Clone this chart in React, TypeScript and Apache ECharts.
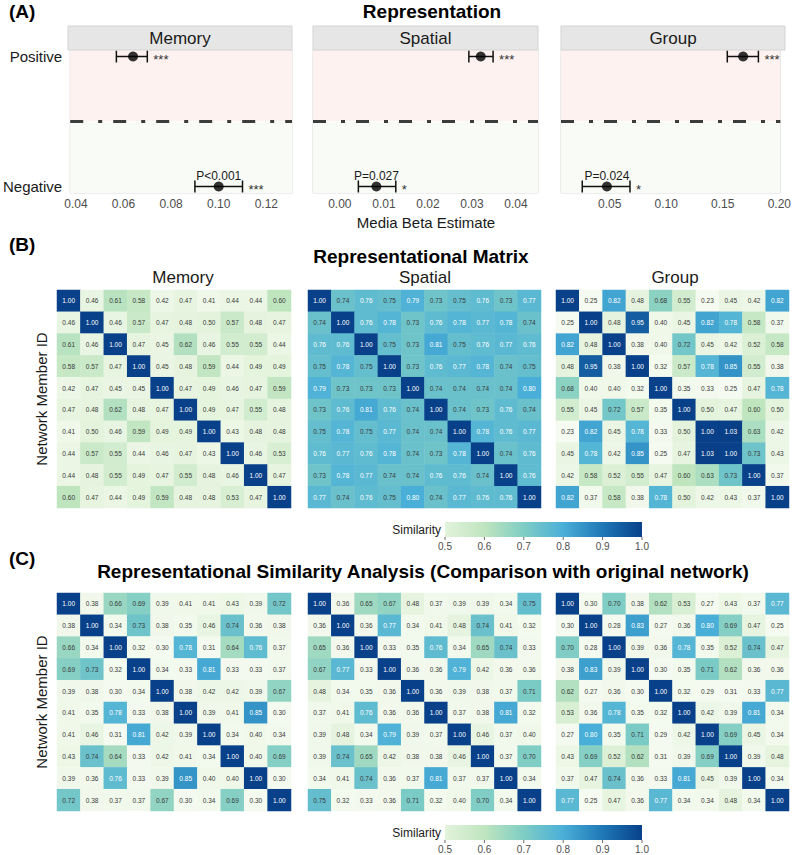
import React, { useEffect, useRef } from "react";
import * as echarts from "echarts";

// ---------- data ----------
const FACETS = ["Memory", "Spatial", "Group"];
const EFFECT_LEVELS = ["Negative", "Positive"]; // y = 1, y = 2

// media beta estimates with confidence interval, one entry per facet
const POS_EST = [0.064, 0.032, 0.168];
const POS_LO = [0.057, 0.0293, 0.154];
const POS_HI = [0.07, 0.0348, 0.1815];
const POS_STARS = ["***", "***", "***"];

const NEG_EST = [0.1, 0.0083, 0.0476];
const NEG_LO = [0.09, 0.0042, 0.0258];
const NEG_HI = [0.11, 0.0127, 0.068];
const NEG_STARS = ["***", "*", "*"];
const NEG_P = ["P<0.001", "P=0.027", "P=0.024"];

const X_MIN = [0.0376, -0.0061, 0.007];
const X_MAX = [0.1308, 0.045, 0.2009];
const X_TICKS = [
  [0.04, 0.06, 0.08, 0.1, 0.12],
  [0.0, 0.01, 0.02, 0.03, 0.04],
  [0.05, 0.1, 0.15, 0.2],
];

const MEMBER_IDS = ["1", "2", "3", "4", "5", "6", "7", "8", "9", "10"];

const RM_MEMORY = [
  [1.0, 0.46, 0.61, 0.58, 0.42, 0.47, 0.41, 0.44, 0.44, 0.6],
  [0.46, 1.0, 0.46, 0.57, 0.47, 0.48, 0.5, 0.57, 0.48, 0.47],
  [0.61, 0.46, 1.0, 0.47, 0.45, 0.62, 0.46, 0.55, 0.55, 0.44],
  [0.58, 0.57, 0.47, 1.0, 0.45, 0.48, 0.59, 0.44, 0.49, 0.49],
  [0.42, 0.47, 0.45, 0.45, 1.0, 0.47, 0.49, 0.46, 0.47, 0.59],
  [0.47, 0.48, 0.62, 0.48, 0.47, 1.0, 0.49, 0.47, 0.55, 0.48],
  [0.41, 0.5, 0.46, 0.59, 0.49, 0.49, 1.0, 0.43, 0.48, 0.48],
  [0.44, 0.57, 0.55, 0.44, 0.46, 0.47, 0.43, 1.0, 0.46, 0.53],
  [0.44, 0.48, 0.55, 0.49, 0.47, 0.55, 0.48, 0.46, 1.0, 0.47],
  [0.6, 0.47, 0.44, 0.49, 0.59, 0.48, 0.48, 0.53, 0.47, 1.0],
];
const RM_SPATIAL = [
  [1.0, 0.74, 0.76, 0.75, 0.79, 0.73, 0.75, 0.76, 0.73, 0.77],
  [0.74, 1.0, 0.76, 0.78, 0.73, 0.76, 0.78, 0.77, 0.78, 0.74],
  [0.76, 0.76, 1.0, 0.75, 0.73, 0.81, 0.75, 0.76, 0.77, 0.76],
  [0.75, 0.78, 0.75, 1.0, 0.73, 0.76, 0.77, 0.78, 0.74, 0.75],
  [0.79, 0.73, 0.73, 0.73, 1.0, 0.74, 0.74, 0.74, 0.74, 0.8],
  [0.73, 0.76, 0.81, 0.76, 0.74, 1.0, 0.74, 0.73, 0.76, 0.74],
  [0.75, 0.78, 0.75, 0.77, 0.74, 0.74, 1.0, 0.78, 0.76, 0.77],
  [0.76, 0.77, 0.76, 0.78, 0.74, 0.73, 0.78, 1.0, 0.74, 0.76],
  [0.73, 0.78, 0.77, 0.74, 0.74, 0.76, 0.76, 0.74, 1.0, 0.76],
  [0.77, 0.74, 0.76, 0.75, 0.8, 0.74, 0.77, 0.76, 0.76, 1.0],
];
const RM_GROUP = [
  [1.0, 0.25, 0.82, 0.48, 0.68, 0.55, 0.23, 0.45, 0.42, 0.82],
  [0.25, 1.0, 0.48, 0.95, 0.4, 0.45, 0.82, 0.78, 0.58, 0.37],
  [0.82, 0.48, 1.0, 0.38, 0.4, 0.72, 0.45, 0.42, 0.52, 0.58],
  [0.48, 0.95, 0.38, 1.0, 0.32, 0.57, 0.78, 0.85, 0.55, 0.38],
  [0.68, 0.4, 0.4, 0.32, 1.0, 0.35, 0.33, 0.25, 0.47, 0.78],
  [0.55, 0.45, 0.72, 0.57, 0.35, 1.0, 0.5, 0.47, 0.6, 0.5],
  [0.23, 0.82, 0.45, 0.78, 0.33, 0.5, 1.0, 1.03, 0.63, 0.42],
  [0.45, 0.78, 0.42, 0.85, 0.25, 0.47, 1.03, 1.0, 0.73, 0.43],
  [0.42, 0.58, 0.52, 0.55, 0.47, 0.6, 0.63, 0.73, 1.0, 0.37],
  [0.82, 0.37, 0.58, 0.38, 0.78, 0.5, 0.42, 0.43, 0.37, 1.0],
];

const RSA_MEMORY = [
  [1.0, 0.38, 0.66, 0.69, 0.39, 0.41, 0.41, 0.43, 0.39, 0.72],
  [0.38, 1.0, 0.34, 0.73, 0.38, 0.35, 0.46, 0.74, 0.36, 0.38],
  [0.66, 0.34, 1.0, 0.32, 0.3, 0.78, 0.31, 0.64, 0.76, 0.37],
  [0.69, 0.73, 0.32, 1.0, 0.34, 0.33, 0.81, 0.33, 0.33, 0.37],
  [0.39, 0.38, 0.3, 0.34, 1.0, 0.38, 0.42, 0.42, 0.39, 0.67],
  [0.41, 0.35, 0.78, 0.33, 0.38, 1.0, 0.39, 0.41, 0.85, 0.3],
  [0.41, 0.46, 0.31, 0.81, 0.42, 0.39, 1.0, 0.34, 0.4, 0.34],
  [0.43, 0.74, 0.64, 0.33, 0.42, 0.41, 0.34, 1.0, 0.4, 0.69],
  [0.39, 0.36, 0.76, 0.33, 0.39, 0.85, 0.4, 0.4, 1.0, 0.3],
  [0.72, 0.38, 0.37, 0.37, 0.67, 0.3, 0.34, 0.69, 0.3, 1.0],
];
const RSA_SPATIAL = [
  [1.0, 0.36, 0.65, 0.67, 0.48, 0.37, 0.39, 0.39, 0.34, 0.75],
  [0.36, 1.0, 0.36, 0.77, 0.34, 0.41, 0.48, 0.74, 0.41, 0.32],
  [0.65, 0.36, 1.0, 0.33, 0.35, 0.76, 0.34, 0.65, 0.74, 0.33],
  [0.67, 0.77, 0.33, 1.0, 0.36, 0.36, 0.79, 0.42, 0.36, 0.36],
  [0.48, 0.34, 0.35, 0.36, 1.0, 0.36, 0.39, 0.38, 0.37, 0.71],
  [0.37, 0.41, 0.76, 0.36, 0.36, 1.0, 0.37, 0.38, 0.81, 0.32],
  [0.39, 0.48, 0.34, 0.79, 0.39, 0.37, 1.0, 0.46, 0.37, 0.4],
  [0.39, 0.74, 0.65, 0.42, 0.38, 0.38, 0.46, 1.0, 0.37, 0.7],
  [0.34, 0.41, 0.74, 0.36, 0.37, 0.81, 0.37, 0.37, 1.0, 0.34],
  [0.75, 0.32, 0.33, 0.36, 0.71, 0.32, 0.4, 0.7, 0.34, 1.0],
];
const RSA_GROUP = [
  [1.0, 0.3, 0.7, 0.38, 0.62, 0.53, 0.27, 0.43, 0.37, 0.77],
  [0.3, 1.0, 0.28, 0.83, 0.27, 0.36, 0.8, 0.69, 0.47, 0.25],
  [0.7, 0.28, 1.0, 0.39, 0.36, 0.78, 0.35, 0.52, 0.74, 0.47],
  [0.38, 0.83, 0.39, 1.0, 0.3, 0.35, 0.71, 0.62, 0.36, 0.36],
  [0.62, 0.27, 0.36, 0.3, 1.0, 0.32, 0.29, 0.31, 0.33, 0.77],
  [0.53, 0.36, 0.78, 0.35, 0.32, 1.0, 0.42, 0.39, 0.81, 0.34],
  [0.27, 0.8, 0.35, 0.71, 0.29, 0.42, 1.0, 0.69, 0.45, 0.34],
  [0.43, 0.69, 0.52, 0.62, 0.31, 0.39, 0.69, 1.0, 0.39, 0.48],
  [0.37, 0.47, 0.74, 0.36, 0.33, 0.81, 0.45, 0.39, 1.0, 0.34],
  [0.77, 0.25, 0.47, 0.36, 0.77, 0.34, 0.34, 0.48, 0.34, 1.0],
];

// similarity colour scale, one colour every 0.1 from SCALE_MIN to SCALE_MAX
const SCALE_MIN = 0.2;
const SCALE_MAX = 1.1;
const SCALE_COLORS = [
  "#f5fbf0", "#f4faef", "#f0f8ea", "#e3f3dc", "#bfe5bf",
  "#7fcdc4", "#4aafd8", "#1f78b5", "#08418a", "#073a7e",
];
const LEGEND_BREAKS = [0.5, 0.6, 0.7, 0.8, 0.9, 1.0];

// ---------- layout ----------
const FONT = "Liberation Sans, Arial, Helvetica, sans-serif";
const A_TOP = 50;
const A_HEIGHT = 143;
const A_BOXES = [
  { left: 68, width: 224 },
  { left: 313, width: 225 },
  { left: 561, width: 224 },
];
const HM_BOXES = [
  { left: 57, width: 234 },
  { left: 308, width: 233 },
  { left: 556, width: 233 },
];
const HM_HEIGHT = 218;
const HM_TOP_B = 290;
const HM_TOP_C = 593;

function txt(x: number, y: number, text: string, size: number, extra: any = {}) {
  return {
    type: "text",
    x,
    y,
    z: 100,
    style: {
      text,
      fontSize: size,
      fontFamily: FONT,
      fill: "#1a1a1a",
      align: "center",
      verticalAlign: "middle",
      ...extra,
    },
  };
}

function colorbar(top: number) {
  const left = 445;
  const len = 197;
  const h = 15;
  const lo = LEGEND_BREAKS[0];
  const hi = LEGEND_BREAKS[LEGEND_BREAKS.length - 1];
  const stops = SCALE_COLORS.map((c, i) => ({ v: SCALE_MIN + i * 0.1, c }))
    .filter((s) => s.v >= lo - 1e-6 && s.v <= hi + 1e-6)
    .map((s) => ({ offset: (s.v - lo) / (hi - lo), color: s.c }));
  const els: any[] = [
    txt(left - 4, top + h / 2, "Similarity", 12, { align: "right" }),
    {
      type: "rect",
      z: 100,
      shape: { x: left, y: top, width: len, height: h },
      style: { fill: new echarts.graphic.LinearGradient(0, 0, 1, 0, stops) },
    },
  ];
  LEGEND_BREAKS.forEach((b) => {
    const x = left + ((b - lo) / (hi - lo)) * len;
    els.push({
      type: "line",
      z: 100,
      shape: { x1: x, y1: top + h, x2: x, y2: top + h + 3 },
      style: { stroke: "#444", lineWidth: 0.8 },
    });
    els.push(txt(x, top + h + 9, b.toFixed(1), 10, { fill: "#4d4d4d" }));
  });
  return els;
}

function buildOption() {
  const grid: any[] = [];
  const xAxis: any[] = [];
  const yAxis: any[] = [];
  const series: any[] = [];
  const heatIdx: number[] = [];

  // ---- panel A: estimates per facet ----
  FACETS.forEach((name, f) => {
    grid.push({
      left: A_BOXES[f].left,
      width: A_BOXES[f].width,
      top: A_TOP,
      height: A_HEIGHT,
      show: true,
      borderColor: "#d9d9d9",
      borderWidth: 1,
      backgroundColor: "transparent",
    });
    xAxis.push({
      type: "value",
      gridIndex: f,
      min: X_MIN[f],
      max: X_MAX[f],
      axisLine: { show: false },
      axisTick: { show: false },
      splitLine: { show: false },
      axisLabel: {
        customValues: X_TICKS[f],
        formatter: (v: number) => v.toFixed(2),
        fontSize: 12,
        color: "#4d4d4d",
        fontFamily: FONT,
        margin: 5,
      },
    });
    yAxis.push({
      type: "value",
      gridIndex: f,
      min: 0.95,
      max: 2.05,
      axisLine: { show: false },
      axisTick: { show: false },
      splitLine: { show: false },
      axisLabel: {
        show: f === 0,
        customValues: [1, 2],
        formatter: (v: number) => EFFECT_LEVELS[Math.round(v) - 1] || "",
        fontSize: 15,
        color: "#1a1a1a",
        fontFamily: FONT,
        margin: 8,
      },
    });
    const est = [NEG_EST[f], POS_EST[f]];
    const lo = [NEG_LO[f], POS_LO[f]];
    const hi = [NEG_HI[f], POS_HI[f]];
    const stars = [NEG_STARS[f], POS_STARS[f]];
    const ptext = [NEG_P[f], ""];
    series.push({
      type: "scatter",
      xAxisIndex: f,
      yAxisIndex: f,
      z: 5,
      symbol: "circle",
      symbolSize: 10,
      itemStyle: { color: "#000" },
      data: est.map((e, i) => [e, i + 1]),
      markArea: {
        silent: true,
        data: [
          [{ yAxis: 1.5, itemStyle: { color: "#fdf2f0" } }, { yAxis: 2.05 }],
          [{ yAxis: 0.95, itemStyle: { color: "#f9fbf6" } }, { yAxis: 1.5 }],
        ],
      },
      markLine: {
        silent: true,
        symbol: "none",
        label: { show: false },
        lineStyle: { type: [13, 15, 4, 11], color: "#3c3c3c", width: 3.2 },
        data: [{ yAxis: 1.5 }],
      },
    });
    series.push({
      type: "custom",
      xAxisIndex: f,
      yAxisIndex: f,
      z: 4,
      encode: { x: [1, 2], y: 0 },
      data: est.map((e, i) => [i + 1, lo[i], hi[i], e]),
      renderItem: (params: any, api: any) => {
        const y = api.value(0);
        const a = api.coord([api.value(1), y]);
        const b = api.coord([api.value(2), y]);
        const c = api.coord([api.value(3), y]);
        const cap = 6;
        const ls = { stroke: "#111", lineWidth: 1.5 };
        const children: any[] = [
          { type: "line", shape: { x1: a[0], y1: a[1], x2: b[0], y2: b[1] }, style: ls },
          { type: "line", shape: { x1: a[0], y1: a[1] - cap, x2: a[0], y2: a[1] + cap }, style: ls },
          { type: "line", shape: { x1: b[0], y1: b[1] - cap, x2: b[0], y2: b[1] + cap }, style: ls },
          {
            type: "text",
            x: b[0] + 6,
            y: b[1] + 3,
            style: {
              text: stars[params.dataIndex],
              fontSize: 13,
              fontFamily: FONT,
              fill: "#333",
              align: "left",
              verticalAlign: "middle",
            },
          },
        ];
        if (ptext[params.dataIndex]) {
          children.push({
            type: "text",
            x: c[0],
            y: c[1] - 11,
            style: {
              text: ptext[params.dataIndex],
              fontSize: 12,
              fontFamily: FONT,
              fill: "#1a1a1a",
              align: "center",
              verticalAlign: "middle",
            },
          });
        }
        return { type: "group", children };
      },
    });
  });

  // ---- panels B and C: similarity matrices ----
  const matrices = [
    { top: HM_TOP_B, mats: [RM_MEMORY, RM_SPATIAL, RM_GROUP] },
    { top: HM_TOP_C, mats: [RSA_MEMORY, RSA_SPATIAL, RSA_GROUP] },
  ];
  matrices.forEach((row) => {
    row.mats.forEach((mat, f) => {
      const gi = grid.length;
      grid.push({ left: HM_BOXES[f].left, width: HM_BOXES[f].width, top: row.top, height: HM_HEIGHT });
      xAxis.push({ type: "category", gridIndex: gi, data: MEMBER_IDS, show: false });
      yAxis.push({ type: "category", gridIndex: gi, data: MEMBER_IDS, inverse: true, show: false });
      const data: any[] = [];
      mat.forEach((r, i) =>
        r.forEach((v, j) => {
          data.push({ value: [j, i, v], label: { color: v > 0.755 ? "#ffffff" : "#3a3a3a" } });
        })
      );
      heatIdx.push(series.length);
      series.push({
        type: "heatmap",
        xAxisIndex: gi,
        yAxisIndex: gi,
        data,
        label: {
          show: true,
          fontSize: 6.5,
          fontFamily: FONT,
          formatter: (p: any) => p.value[2].toFixed(2),
        },
      });
    });
  });

  const graphic: any[] = [
    txt(9, 11, "(A)", 19, { fontWeight: "bold", align: "left", fill: "#000" }),
    txt(432, 11, "Representation", 19, { fontWeight: "bold", fill: "#000" }),
    txt(426, 222, "Media Beta Estimate", 15),
    txt(9, 244, "(B)", 19, { fontWeight: "bold", align: "left", fill: "#000" }),
    txt(421, 256, "Representational Matrix", 19, { fontWeight: "bold", fill: "#000" }),
    txt(183, 277, "Memory", 17),
    txt(425, 277, "Spatial", 17),
    txt(675, 277, "Group", 17),
    txt(9, 558, "(C)", 19, { fontWeight: "bold", align: "left", fill: "#000" }),
    txt(423, 571, "Representational Similarity Analysis (Comparison with original network)", 19, {
      fontWeight: "bold",
      fill: "#000",
    }),
    { ...txt(41, HM_TOP_B + HM_HEIGHT / 2, "Network Member ID", 15), rotation: Math.PI / 2 },
    { ...txt(41, HM_TOP_C + HM_HEIGHT / 2, "Network Member ID", 15), rotation: Math.PI / 2 },
    ...colorbar(522),
    ...colorbar(825),
  ];
  FACETS.forEach((name, f) => {
    const b = A_BOXES[f];
    graphic.push({
      type: "rect",
      z: 90,
      shape: { x: b.left, y: 26, width: b.width, height: A_TOP - 26 },
      style: { fill: "#e6e6e6", stroke: "#d4d4d4", lineWidth: 1 },
    });
    graphic.push(txt(b.left + b.width / 2, 38, name, 17));
  });

  return {
    animation: false,
    backgroundColor: "#ffffff",
    textStyle: { fontFamily: FONT },
    grid,
    xAxis,
    yAxis,
    visualMap: {
      type: "continuous",
      show: false,
      min: SCALE_MIN,
      max: SCALE_MAX,
      seriesIndex: heatIdx,
      inRange: { color: SCALE_COLORS },
    },
    series,
    graphic,
  };
}

export default function App() {
  const ref = useRef<HTMLDivElement>(null);
  useEffect(() => {
    if (!ref.current) return;
    const chart = echarts.init(ref.current, undefined, { renderer: "svg" });
    chart.setOption(buildOption() as any);
    return () => chart.dispose();
  }, []);
  return (
    <div
      ref={ref}
      style={{ position: "absolute", left: 0, top: 0, width: 794, height: 855, background: "#fff" }}
    />
  );
}
